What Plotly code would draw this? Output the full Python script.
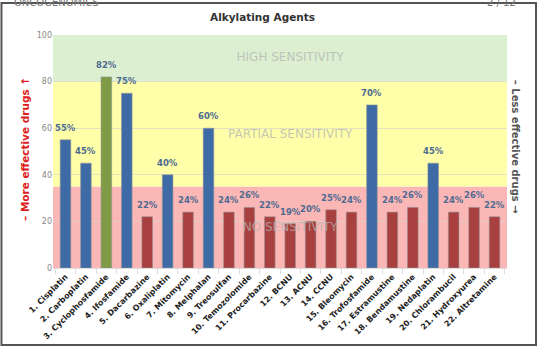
import plotly.graph_objects as go

drugs = ["1. Cisplatin", "2. Carboplatin", "3. Cyclophosfamide", "4. Ifosfamide",
         "5. Dacarbazine", "6. Oxaliplatin", "7. Mitomycin", "8. Melphalan",
         "9. Treosulfan", "10. Temozolomide", "11. Procarbazine", "12. BCNU",
         "13. ACNU", "14. CCNU", "15. Bleomycin", "16. Trofosfamide",
         "17. Estramustine", "18. Bendamustine", "19. Nedaplatin",
         "20. Chlorambucil", "21. Hydroxyurea", "22. Altretamine"]
values = [55, 45, 82, 75, 22, 40, 24, 60, 24, 26, 22, 19, 20, 25, 24, 70, 24, 26, 45, 24, 26, 22]
band_low = [0, 35, 80]
band_high = [35, 80, 100]
band_colors = ["#fbb6b6", "#ffffaa", "#dcefd0"]
band_labels = ["NO SENSITIVITY", "PARTIAL SENSITIVITY", "HIGH SENSITIVITY"]
band_label_y = [17, 57, 90]

BLUE, RED, GREEN = "#3e6ba5", "#a8403f", "#7f9b48"
colors = [GREEN if v >= 80 else (BLUE if v >= 35 else RED) for v in values]

FONT = "DejaVu Sans"
fig = go.Figure()
# band labels, drawn beneath the bars
fig.add_trace(go.Scatter(
    x=[drugs[11]] * 3, y=band_label_y, mode="text", text=band_labels,
    textposition="middle center", cliponaxis=False, hoverinfo="skip",
    textfont=dict(family=FONT, size=12, color="rgba(180,180,180,0.75)")))
fig.add_trace(go.Bar(
    x=drugs, y=values, marker=dict(color=colors, line=dict(color="rgba(150,150,150,0.6)", width=1)),
    width=0.52, hoverinfo="skip"))

shapes = []
annotations = []
for lo, hi, col in zip(band_low, band_high, band_colors):
    shapes.append(dict(type="rect", xref="paper", yref="y", x0=0, x1=1, y0=lo, y1=hi,
                       fillcolor=col, line=dict(width=0), layer="below"))
for d, v in zip(drugs, values):
    annotations.append(dict(x=d, y=v, text=f"<b>{v}%</b>", showarrow=False, yanchor="middle",
                            yshift=12, font=dict(family=FONT, size=8.5, color="#4f6b91")))

# frame
shapes.append(dict(type="rect", xref="paper", yref="paper", x0=-0.1135, x1=1.0639, y0=1.137, y1=-0.330,
                   line=dict(color="#555555", width=2), fillcolor="rgba(0,0,0,0)", layer="above"))

annotations += [
    dict(xref="paper", yref="paper", x=-0.062, y=0.51, xanchor="center", yanchor="middle",
         text="<b>– More effective drugs ↑</b>",
         textangle=-90, showarrow=False, font=dict(family=FONT, size=10.5, color="#dd2020")),
    dict(xref="paper", yref="paper", x=1.0176, y=0.52, xanchor="center", yanchor="middle",
         text="<b>– Less effective drugs →</b>",
         textangle=90, showarrow=False, font=dict(family=FONT, size=10, color="#555555")),
    dict(xref="paper", yref="paper", x=0.462, y=1.077, xanchor="center", yanchor="middle",
         text="<b>Alkylating Agents</b>",
         showarrow=False, font=dict(family=FONT, size=10.5, color="#333333")),
    dict(xref="paper", yref="paper", x=-0.09, y=1.14, xanchor="left", yanchor="middle",
         text="ONCOGENOMICS",
         showarrow=False, font=dict(family=FONT, size=10, color="#777777")),
    dict(xref="paper", yref="paper", x=1.025, y=1.14, xanchor="right", yanchor="middle",
         text="2 / 12",
         showarrow=False, font=dict(family=FONT, size=10, color="#777777")),
]

fig.update_layout(
    width=538, height=347, margin=dict(l=53, r=31, t=35, b=79, autoexpand=False),
    paper_bgcolor="white", plot_bgcolor="white", showlegend=False,
    shapes=shapes, annotations=annotations,
    font=dict(family=FONT),
)
fig.update_yaxes(range=[0, 100], tickvals=[0, 20, 40, 60, 80, 100], showgrid=True,
                 gridcolor="rgba(215,215,200,0.7)", gridwidth=1, zeroline=False,
                 tickfont=dict(family=FONT, size=8, color="#888888"), ticks="", showline=False,
                 automargin=False)
fig.update_xaxes(tickangle=-45, tickfont=dict(family=FONT, size=8, color="#222222"),
                 categoryorder="array", categoryarray=drugs,
                 ticks="outside", tickson="boundaries", ticklen=5, tickcolor="#dddddd",
                 showline=True, linecolor="#dddddd", showgrid=False, automargin=False,
                 tickprefix="<b>", ticksuffix="</b>")

fig.write_html("out.html")
